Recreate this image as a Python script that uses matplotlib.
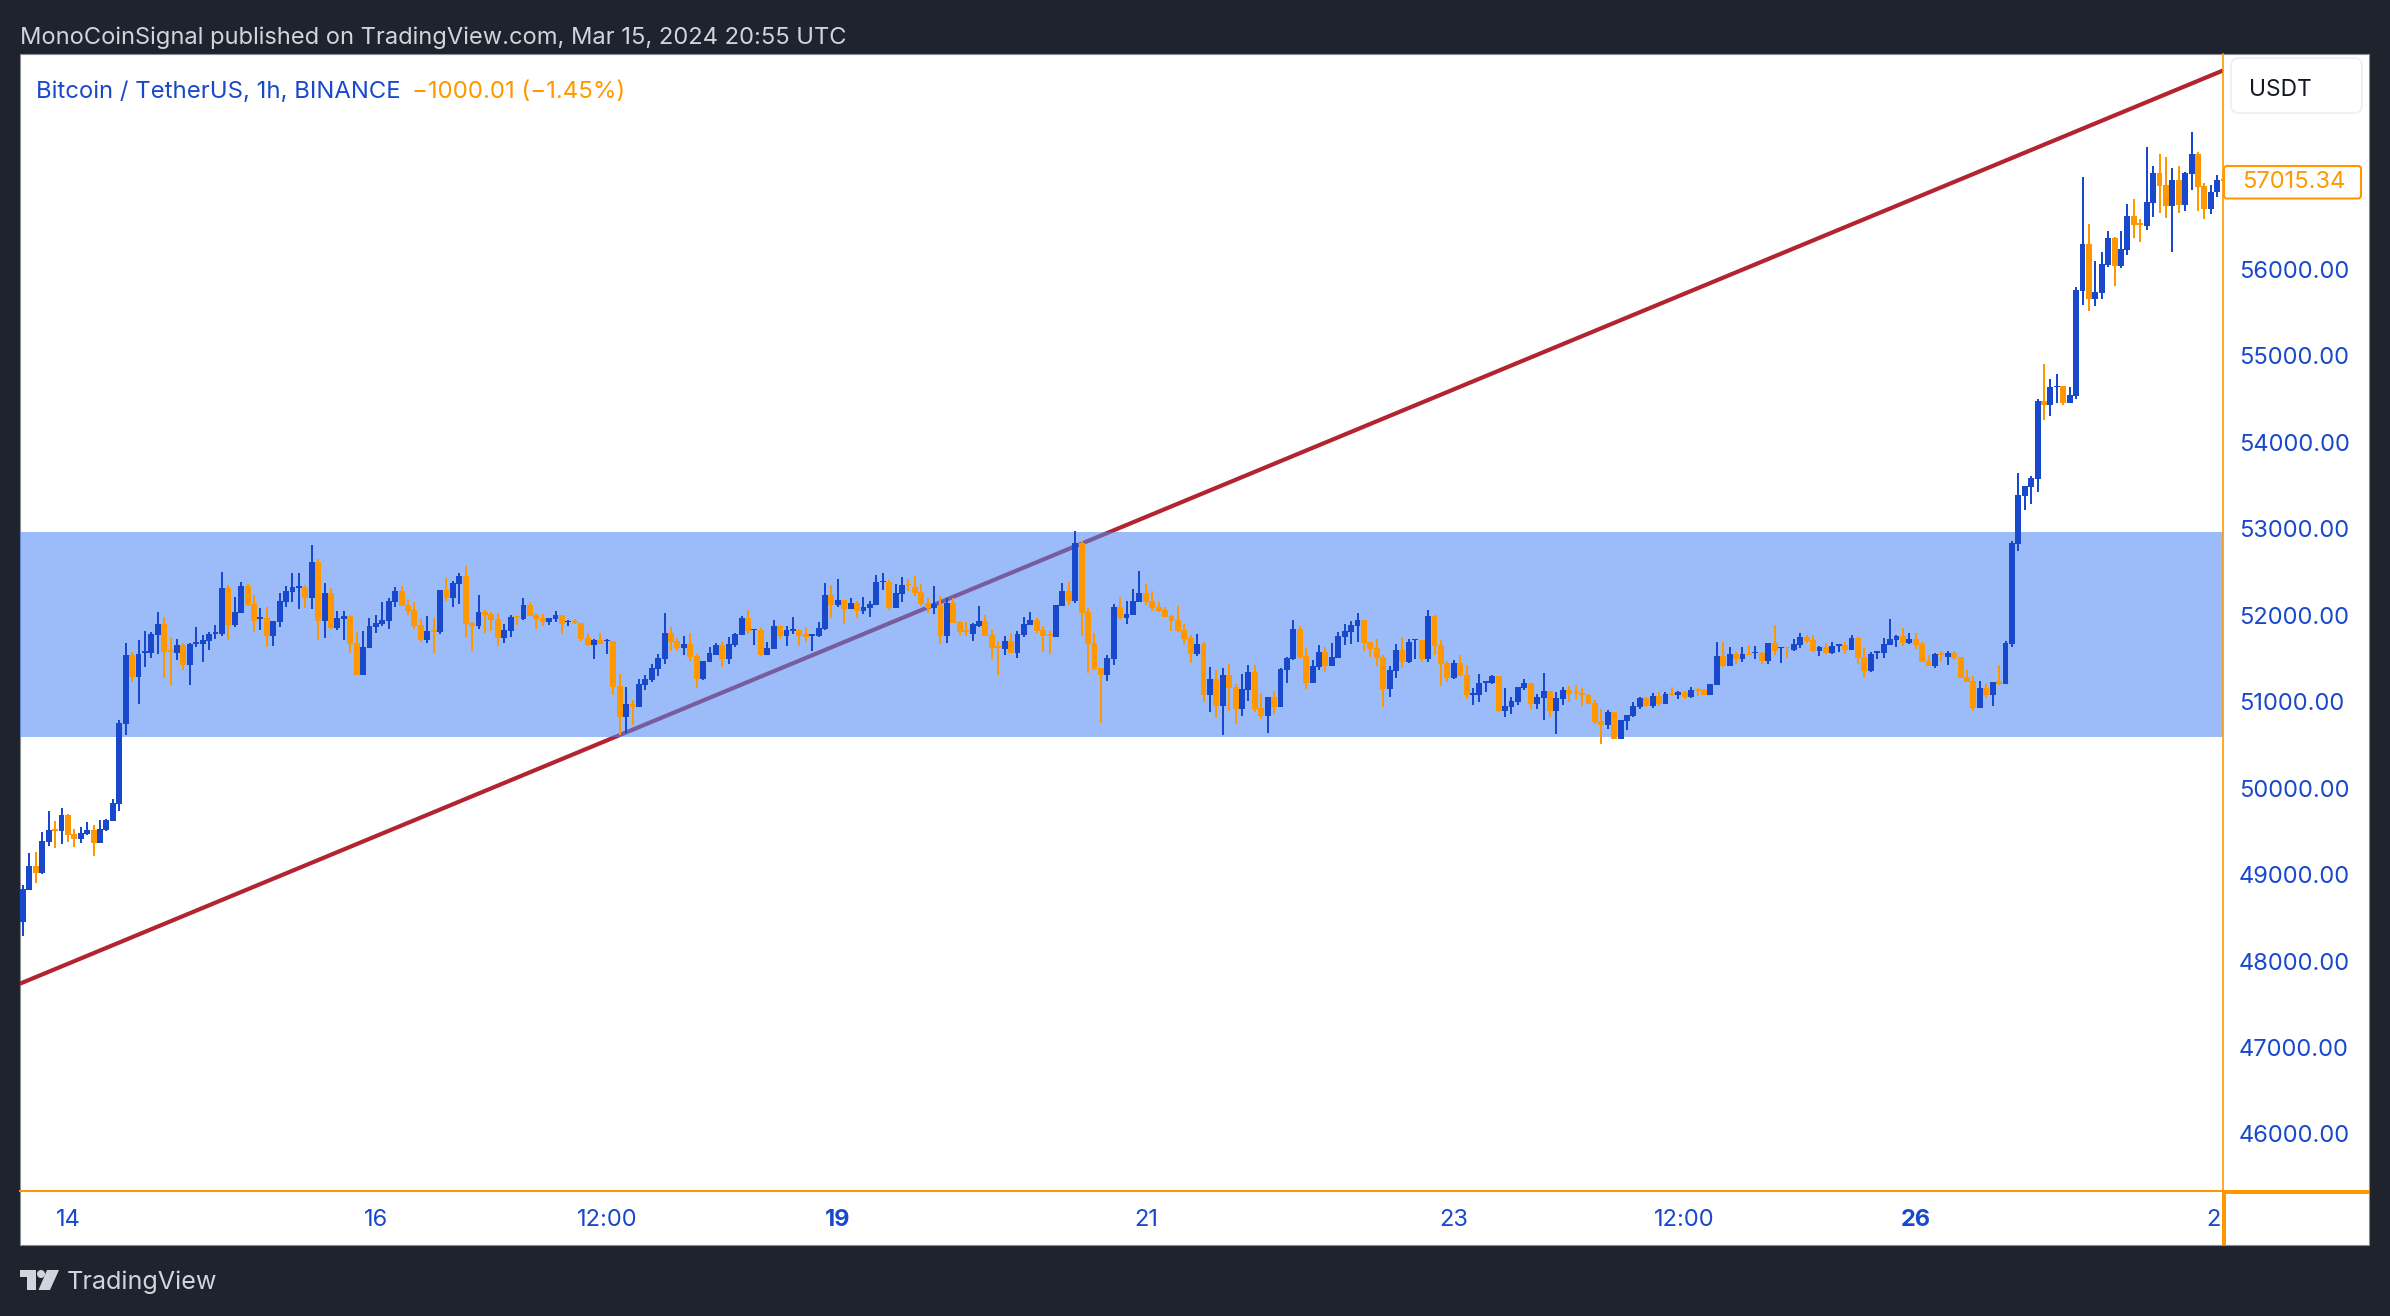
"""BTCUSDT 1h candles with support band and trend line, TradingView snapshot look"""
import numpy as np
import matplotlib
matplotlib.use("Agg")
import matplotlib.pyplot as plt
from matplotlib.patches import Rectangle, Circle, Polygon, FancyBboxPatch

# B = blue candle (up), O = orange candle (down)
candle_dirs = (
    "BBOBBOBOOB" "BOBBBBBOBB" "BBOOBOBBBB" "BBOBBOOBOB" "BBBBOBOBOB"
    "BOOBBBBBBO" "OOOBOBOBBO"
    "OBOOOBB"
    "OBOOOBBOBO" "OOBOBOOBOB" "BBBBOOBOOB" "BBOBBBOBOB" "BOBBOOBBBO"
    "BOBOBBBBOB" "BOOOOBOBOO"
    "OBBOOOB"
    "OBBBOOOBBO" "BOOOOBBOBB" "BOOOOOOOOB" "OBOBOOBBOO" "BOBBBOOBBO"
    "BBBBBOOOOB" "BOBBOBOOOB" "OOBBBBOBBB" "BOBBOBBOOO" "OOOBOBBBBO"
    "BOBOBOBOOB" "BOBOBOBOBO" "BOBBOOBOBB" "OBOOBBBBBO" "BOOOBOBOOO"
    "OBOBOBBBBB" "BOBBOBBBOB" "BBOBBOOBBO" "OBOBBOOBBO"
)

body_tops = [
    48832, 49098, 49098, 49387, 49514, 49522, 49687, 49687, 49468, 49479,
    49514, 49514, 49525, 49629, 49826, 50751, 51537, 51537, 51549, 51580,
    51780, 51896, 51896, 51591, 51653, 51653, 51668, 51684, 51707, 51780,
    51803, 52312, 52312, 52034, 52335, 52339, 52127, 51973, 51965, 51930,
    52162, 52277, 52323, 52335, 52323, 52612, 52612, 52254, 52254, 51965,
    51988, 51988, 51676, 51630, 51872, 51907, 51942, 52162, 52277, 52277,
    52115, 52057, 51880, 51815, 51826, 52289, 52289, 52370, 52451, 52451,
    51907, 52034, 52030, 52011, 51953, 51826, 51976, 51988, 52115, 52115,
    52000, 51969, 51965, 52000, 52000, 51934, 51930, 51907, 51734, 51711,
    51711, 51715, 51699, 51179, 50971, 50971, 51202, 51260, 51387, 51503,
    51792, 51792, 51699, 51665, 51665, 51526, 51468, 51560, 51653, 51653,
    51665, 51780, 51965, 51965, 51838, 51826, 51618, 51873, 51873, 51826,
    51838, 51826, 51780, 51776, 51850, 52231, 52231, 52173, 52173, 52139,
    52135, 52092, 52127, 52381, 52393, 52381, 52254, 52347, 52358, 52324,
    52266, 52135, 52127, 52115, 52139, 52139, 51919, 51826, 51896, 51930,
    51930, 51769, 51638, 51699, 51699, 51780, 51896, 51942, 51942, 51826,
    51780, 52115, 52277, 52277, 52832, 52832, 52034, 51676, 51387, 51502,
    52092, 52092, 52011, 52162, 52254, 52254, 52162, 52092, 52057, 51988,
    51942, 51826, 51734, 51664, 51664, 51260, 51260, 51306, 51306, 51167,
    51144, 51341, 51341, 50924, 51052, 51052, 51375, 51502, 51838, 51838,
    51526, 51410, 51572, 51572, 51514, 51757, 51815, 51884, 51942, 51942,
    51687, 51618, 51514, 51364, 51595, 51595, 51687, 51722, 51711, 51988,
    51988, 51653, 51445, 51445, 51445, 51306, 51098, 51213, 51233, 51294,
    51294, 50947, 51006, 51167, 51214, 51214, 51052, 51121, 51121, 51040,
    51133, 51133, 51110, 51094, 51075, 50982, 50774, 50878, 50878, 50786,
    50844, 50948, 51040, 51040, 51063, 51063, 51086, 51094, 51110, 51110,
    51133, 51140, 51133, 51202, 51526, 51526, 51549, 51549, 51549, 51553,
    51572, 51560, 51676, 51676, 51630, 51630, 51665, 51745, 51745, 51711,
    51630, 51630, 51641, 51665, 51653, 51734, 51734, 51514, 51549, 51584,
    51665, 51722, 51757, 51757, 51722, 51722, 51665, 51468, 51549, 51560,
    51560, 51560, 51514, 51283, 51237, 51156, 51156, 51225, 51234, 51675,
    52835, 53386, 53497, 53583, 54474, 54474, 54637, 54652, 54647, 54541,
    55759, 56291, 56291, 55735, 56056, 56358, 56358, 56229, 56612, 56612,
    56535, 56775, 57110, 57110, 56971, 57029, 57029, 57110, 57331, 57331,
    56962, 56890, 57029, 57040,
]

body_bottoms = [
    48454, 48820, 49020, 49013, 49379, 49506, 49502, 49456, 49410, 49410,
    49468, 49364, 49364, 49514, 49618, 49814, 50739, 51283, 51283, 51564,
    51560, 51768, 51572, 51572, 51560, 51422, 51422, 51664, 51664, 51699,
    51784, 51780, 51884, 51884, 52023, 52115, 51930, 51957, 51757, 51757,
    51919, 52150, 52266, 52316, 52196, 52196, 51930, 51930, 51849, 51849,
    51953, 51664, 51306, 51306, 51618, 51861, 51896, 51930, 52150, 52104,
    52046, 51872, 51711, 51711, 51807, 51803, 52196, 52196, 52358, 51896,
    51876, 51872, 52000, 51942, 51734, 51734, 51815, 51973, 51954, 51988,
    51954, 51919, 51923, 51954, 51896, 51915, 51907, 51722, 51653, 51653,
    51665, 51699, 51167, 50821, 50821, 50936, 50936, 51191, 51248, 51376,
    51491, 51688, 51618, 51618, 51514, 51260, 51260, 51456, 51537, 51491,
    51491, 51653, 51769, 51815, 51823, 51537, 51537, 51607, 51757, 51757,
    51819, 51761, 51742, 51761, 51757, 51838, 52115, 52115, 52069, 52069,
    52046, 52046, 52081, 52115, 52378, 52081, 52081, 52243, 52343, 52254,
    52127, 52081, 52081, 51757, 51757, 51907, 51803, 51807, 51780, 51873,
    51757, 51618, 51622, 51607, 51560, 51560, 51768, 51884, 51815, 51757,
    51757, 51745, 52104, 52162, 52162, 52023, 51664, 51375, 51306, 51306,
    51491, 51965, 51965, 52000, 52150, 52150, 52081, 52046, 51976, 51930,
    51815, 51722, 51549, 51549, 51075, 51075, 50947, 50947, 51156, 50913,
    50913, 51132, 50913, 50832, 50832, 50936, 50936, 51364, 51491, 51514,
    51213, 51213, 51398, 51410, 51410, 51502, 51745, 51803, 51872, 51676,
    51606, 51502, 51144, 51144, 51352, 51456, 51456, 51707, 51491, 51491,
    51641, 51433, 51271, 51271, 51294, 51075, 51075, 51075, 51217, 51213,
    50890, 50890, 50936, 50994, 51156, 50971, 50971, 51040, 50890, 50890,
    51029, 51086, 51094, 51075, 50971, 50763, 50728, 50728, 50566, 50566,
    50774, 50832, 50936, 50948, 50948, 50971, 50971, 51075, 51075, 51052,
    51052, 51125, 51075, 51075, 51191, 51410, 51410, 51491, 51491, 51537,
    51557, 51468, 51468, 51584, 51614, 51614, 51595, 51653, 51699, 51584,
    51584, 51560, 51560, 51645, 51595, 51595, 51503, 51352, 51352, 51564,
    51560, 51653, 51715, 51676, 51676, 51653, 51456, 51410, 51410, 51541,
    51514, 51503, 51271, 51225, 50925, 50925, 51075, 51075, 51205, 51205,
    51666, 52821, 53377, 53477, 53578, 54426, 54426, 54632, 54455, 54455,
    54532, 55749, 55653, 55653, 55720, 56042, 56037, 56037, 56219, 56511,
    56506, 56502, 56765, 56962, 56732, 56732, 56746, 56746, 57096, 56947,
    56689, 56689, 56885, 57015,
]

highs = [
    48878, 49252, 49259, 49491, 49733, 49618, 49768, 49699, 49525, 49548,
    49606, 49572, 49629, 49641, 49872, 50786, 51676, 51572, 51711, 51815,
    51803, 52034, 51976, 51745, 51722, 51676, 51676, 51861, 51768, 51803,
    51884, 52497, 52346, 52208, 52381, 52358, 52231, 52081, 52092, 51930,
    52254, 52335, 52485, 52485, 52346, 52809, 52647, 52370, 52312, 52046,
    52046, 52000, 51803, 51815, 51965, 52000, 52150, 52196, 52323, 52335,
    52185, 52150, 51953, 51988, 51965, 52289, 52427, 52393, 52485, 52566,
    51919, 52231, 52057, 52034, 52023, 51896, 52000, 51988, 52196, 52150,
    52023, 52011, 51965, 52046, 52000, 51942, 51954, 51907, 51792, 51722,
    51792, 51726, 51699, 51318, 51167, 51017, 51260, 51306, 51433, 51549,
    52023, 51861, 51734, 51757, 51792, 51549, 51468, 51630, 51676, 51688,
    51745, 51792, 51988, 52058, 51838, 51850, 51688, 51942, 51884, 51873,
    51977, 51838, 51861, 51776, 51919, 52370, 52347, 52416, 52173, 52196,
    52162, 52208, 52162, 52462, 52485, 52405, 52358, 52439, 52416, 52451,
    52358, 52196, 52335, 52220, 52196, 52196, 51930, 51919, 51907, 52104,
    52000, 51826, 51699, 51757, 51792, 51811, 51976, 52034, 51965, 51872,
    51815, 52115, 52370, 52381, 52971, 52855, 52081, 51791, 51387, 51537,
    52127, 52208, 52162, 52300, 52508, 52358, 52277, 52150, 52092, 52000,
    52104, 51896, 51768, 51780, 51687, 51398, 51364, 51387, 51433, 51202,
    51317, 51422, 51422, 51098, 51052, 51121, 51387, 51514, 51942, 51872,
    51618, 51479, 51653, 51630, 51676, 51803, 51896, 51930, 52023, 51942,
    51687, 51722, 51537, 51410, 51664, 51745, 51722, 51722, 51711, 52057,
    52000, 51711, 51468, 51479, 51537, 51422, 51156, 51317, 51233, 51306,
    51294, 51156, 51052, 51167, 51260, 51214, 51086, 51329, 51121, 51110,
    51167, 51179, 51191, 51156, 51086, 51017, 50913, 50901, 50878, 50786,
    50844, 50994, 51052, 51052, 51098, 51110, 51110, 51167, 51121, 51121,
    51167, 51156, 51144, 51202, 51688, 51688, 51630, 51572, 51630, 51653,
    51641, 51572, 51676, 51884, 51630, 51630, 51722, 51792, 51769, 51769,
    51641, 51676, 51688, 51665, 51688, 51769, 51745, 51618, 51572, 51584,
    51734, 51954, 51769, 51850, 51792, 51792, 51688, 51537, 51560, 51584,
    51584, 51584, 51514, 51364, 51295, 51237, 51214, 51225, 51426, 51704,
    52850, 53640, 53497, 53612, 54503, 54901, 54733, 54791, 54647, 54637,
    55788, 57063, 56516, 56094, 56195, 56439, 56372, 56444, 56756, 56804,
    56574, 57408, 57192, 57331, 57293, 57163, 57192, 57120, 57580, 57350,
    56991, 56976, 57091, 57045,
]

lows = [
    48288, 48820, 48905, 49005, 49333, 49306, 49356, 49379, 49321, 49364,
    49456, 49213, 49364, 49502, 49618, 49733, 50612, 51225, 50971, 51398,
    51502, 51549, 51271, 51190, 51479, 51364, 51190, 51630, 51456, 51595,
    51722, 51757, 51711, 51861, 52023, 52104, 51803, 51826, 51630, 51641,
    51861, 52092, 52150, 52069, 52081, 52069, 51711, 51734, 51838, 51826,
    51711, 51560, 51306, 51306, 51618, 51791, 51872, 51838, 52092, 52104,
    52000, 51838, 51687, 51676, 51560, 51780, 52162, 52092, 52127, 51745,
    51583, 51838, 51791, 51815, 51641, 51676, 51745, 51884, 51942, 51988,
    51838, 51873, 51884, 51919, 51780, 51873, 51896, 51699, 51641, 51491,
    51665, 51549, 51075, 50612, 50636, 50728, 50936, 51133, 51225, 51295,
    51433, 51584, 51584, 51537, 51468, 51156, 51248, 51456, 51537, 51399,
    51433, 51630, 51769, 51780, 51653, 51526, 51537, 51607, 51722, 51641,
    51780, 51641, 51688, 51584, 51745, 51826, 51965, 52092, 51896, 52069,
    51965, 52011, 51977, 52115, 52289, 52058, 52081, 52150, 52277, 52220,
    52104, 52023, 52011, 51665, 51676, 51907, 51769, 51757, 51699, 51861,
    51757, 51491, 51306, 51537, 51560, 51502, 51745, 51884, 51791, 51572,
    51549, 51745, 52104, 52115, 52138, 51757, 51329, 51364, 50751, 51236,
    51422, 51942, 51896, 52000, 52150, 52115, 52046, 52034, 51976, 51815,
    51803, 51664, 51445, 51526, 50994, 50878, 50809, 50612, 50890, 50739,
    50832, 51005, 50878, 50797, 50635, 50855, 50936, 51213, 51479, 51491,
    51144, 51213, 51364, 51341, 51410, 51502, 51653, 51664, 51687, 51583,
    51514, 51410, 50936, 51052, 51271, 51387, 51445, 51491, 51456, 51456,
    51537, 51179, 51225, 51260, 51294, 51028, 50959, 50994, 51109, 51202,
    50878, 50820, 50855, 50959, 51133, 50913, 50913, 50786, 50820, 50624,
    50959, 50994, 51029, 50948, 50971, 50740, 50508, 50682, 50566, 50566,
    50670, 50820, 50913, 50936, 50925, 50948, 50971, 51063, 51029, 51029,
    51040, 51063, 51075, 51075, 51191, 51399, 51410, 51433, 51456, 51537,
    51491, 51433, 51433, 51537, 51445, 51503, 51584, 51618, 51676, 51572,
    51526, 51549, 51549, 51572, 51549, 51595, 51433, 51271, 51341, 51491,
    51503, 51653, 51630, 51641, 51665, 51607, 51456, 51410, 51387, 51468,
    51422, 51480, 51271, 51225, 50890, 50925, 51040, 50948, 51196, 51205,
    51627, 52744, 53209, 53281, 53425, 54259, 54302, 54455, 54431, 54446,
    54503, 55581, 55519, 55577, 55649, 56027, 55807, 56013, 56157, 56358,
    56315, 56449, 56602, 56646, 56588, 56200, 56646, 56674, 56919, 56674,
    56583, 56631, 56837, 57010,
]

price_ticks = [46000, 47000, 48000, 49000, 50000, 51000, 52000, 53000, 54000, 55000, 56000]
time_ticks = [7, 55, 91, 127, 175, 223, 259, 295]
time_labels = ["14", "16", "12:00", "19", "21", "23", "12:00", "26"]
bold_times = ["19", "26"]

band_low = 50590
band_high = 52960
trend_a = (93, 50612)
trend_b = (164, 52795)
last_price = 57015.34

W, H = 2390, 1316
DARK = "#1f232d"
BLUE = "#1848cc"
ORANGE = "#ff9800"
FONT = "Inter"


def box(x0, y0, x1, y1):
    """Axes rectangle from pixel coords, y going down like in the screenshot"""
    return [x0 / W, 1 - y1 / H, (x1 - x0) / W, (y1 - y0) / H]


def main():
    plt.rcParams["font.family"] = [FONT, "DejaVu Sans"]
    fig = plt.figure(figsize=(W / 100, H / 100), dpi=100, facecolor=DARK)

    # overlay in pixel coords for the chrome around the chart
    chrome = fig.add_axes([0, 0, 1, 1], zorder=0)
    chrome.set_xlim(0, W)
    chrome.set_ylim(H, 0)
    chrome.axis("off")
    chrome.add_patch(Rectangle((20, 54), 2349, 1191, facecolor="white", edgecolor="#8a8d94", linewidth=0.8))

    ax = fig.add_axes(box(20, 54, 2222.7, 1191), zorder=1)
    ax.patch.set_alpha(0)

    idx = np.arange(len(body_tops))
    tops = np.array(body_tops)
    bottoms = np.array(body_bottoms)
    hi = np.array(highs)
    lo = np.array(lows)
    up = np.array([c == "B" for c in candle_dirs])
    colors = np.where(up, BLUE, ORANGE)

    # the band sits over the trend line, this gives the purple part of it
    ax.axline(trend_a, trend_b, color="#b2242f", linewidth=3.0, zorder=1)
    ax.axhspan(band_low, band_high, color="#4d89f6", alpha=0.56, linewidth=0, zorder=2)

    ax.vlines(idx, lo, hi, colors=colors, linewidth=1.44, zorder=3, antialiased=False)
    ax.bar(idx, tops - bottoms, bottom=bottoms, width=0.92, color=colors, linewidth=0, zorder=4, antialiased=False)

    ax.set_xlim(-0.47, 342.85)
    ax.set_ylim(45341, 58486)

    ax.yaxis.tick_right()
    ax.set_yticks(price_ticks)
    ax.set_yticklabels([f"{p:.2f}" for p in price_ticks], color=BLUE, fontsize=17)
    ax.tick_params(axis="y", length=0, pad=11.5)
    ax.set_xticks([])
    for name in ["top", "left"]:
        ax.spines[name].set_visible(False)
    ax.spines["right"].set_color(ORANGE)
    ax.spines["right"].set_linewidth(1.2)
    ax.spines["bottom"].set_color(ORANGE)
    ax.spines["bottom"].set_linewidth(1.5)

    # time scale below the orange line
    tx = fig.add_axes(box(20, 1191, 2222.7, 1245), zorder=1)
    tx.patch.set_alpha(0)
    tx.set_xlim(ax.get_xlim())
    tx.set_ylim(0, 1)
    tx.set_yticks([])
    tx.set_xticks(time_ticks)
    tx.set_xticklabels(time_labels, color=BLUE, fontsize=17)
    tx.tick_params(axis="x", length=0, direction="in", pad=-26)
    for lab in tx.get_xticklabels():
        if lab.get_text() in bold_times:
            lab.set_fontweight("bold")
    for sp in tx.spines.values():
        sp.set_visible(False)
    # "28" is cut off by the edge of the pane, only the 2 shows
    tx.text(342.6, 0.47, "2", color=BLUE, fontsize=17, ha="right", va="center", clip_on=False)

    # orange cross pieces in the scale corner
    chrome.add_patch(Rectangle((2222, 1191), 3.7, 54, facecolor=ORANGE, linewidth=0, zorder=5))
    chrome.add_patch(Rectangle((2224, 1190), 145, 3.6, facecolor=ORANGE, linewidth=0, zorder=5))

    # last price tag and currency button
    top = fig.add_axes([0, 0, 1, 1], zorder=3)
    top.set_xlim(0, W)
    top.set_ylim(H, 0)
    top.axis("off")
    top.add_patch(FancyBboxPatch((2224, 166), 137, 32.5, boxstyle="round,pad=0,rounding_size=3",
                                 facecolor="white", edgecolor=ORANGE, linewidth=1.5))
    top.text(2294, 182.5, f"{last_price:.2f}", color=ORANGE, fontsize=17, ha="center", va="center")
    top.add_patch(FancyBboxPatch((2231, 58), 131, 55, boxstyle="round,pad=0,rounding_size=8",
                                 facecolor="white", edgecolor="#eceef2", linewidth=1.2))
    top.text(2249, 90, "USDT", color="#131722", fontsize=16.4, ha="left", va="center")

    # header and legend
    top.text(20, 38, "MonoCoinSignal published on TradingView.com, Mar 15, 2024 20:55 UTC",
             color="#d1d4dc", fontsize=17.05, ha="left", va="center")
    top.text(36, 92, "Bitcoin / TetherUS, 1h, BINANCE", color=BLUE, fontsize=17.2, ha="left", va="center")
    top.text(412, 92, "\u22121000.01 (\u22121.45%)", color=ORANGE, fontsize=17.3, ha="left", va="center")

    # TradingView logo
    logo = "#d1d4dc"
    top.add_patch(Polygon([(20.5, 1270), (36, 1270), (36, 1290), (27, 1290), (27, 1277), (20.5, 1277)],
                          facecolor=logo, linewidth=0))
    top.add_patch(Circle((41, 1274), 4, facecolor=logo, linewidth=0))
    top.add_patch(Polygon([(47, 1270), (59, 1270), (50, 1290), (38.5, 1290)], facecolor=logo, linewidth=0))
    top.text(67, 1282, "TradingView", color=logo, fontsize=18.1, ha="left", va="center")

    fig.savefig("out.png", dpi=100, facecolor=DARK)


main()
